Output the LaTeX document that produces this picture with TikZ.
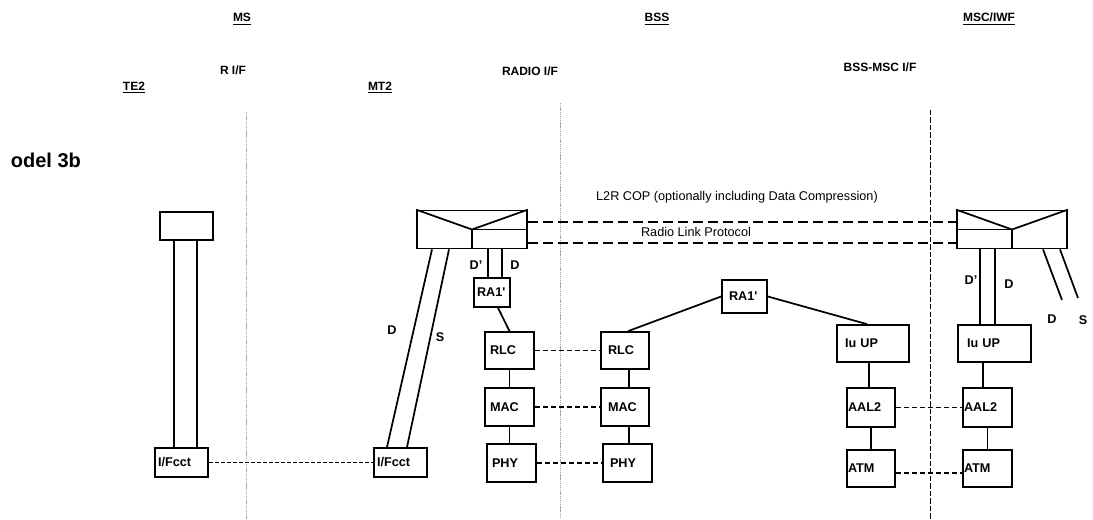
\documentclass[tikz,border=0pt]{standalone}
\usepackage{fontspec}
\setmainfont{Liberation Sans}
\usetikzlibrary{calc,positioning}
\tikzset{
  every picture/.style={line width=1.3pt},
  sbox/.style n args={3}{draw, rectangle, inner ysep=0pt, inner xsep=#3*0.75pt,
                  minimum width=#1*0.75pt, minimum height=#2*0.75pt,
                  text width={(#1-2*#3)*0.75pt}, align=left,
                  font=\bfseries\fontsize{9.5}{11}\selectfont},
  smux/.style={draw, rectangle, inner sep=0pt, minimum width=82.5pt, minimum height=28.5pt},
  slink/.style={solid},
  speer/.style={dash pattern=on 3.75pt off 2.25pt},
  speerfine/.style={line width=1pt, dash pattern=on 3pt off 1.5pt},
  speerlong/.style={dash pattern=on 7.5pt off 3.75pt},
  sbound/.style={draw=gray!70, line width=0.45pt, dash pattern=on 1pt off 0.6pt},
  sboundmsc/.style={line width=0.6pt, dash pattern=on 4pt off 1.6pt},
  shead/.style={inner sep=1pt, font=\bfseries\fontsize{9}{11}\selectfont},
  slabel/.style={inner sep=1pt, font=\bfseries\fontsize{9.5}{11}\selectfont},
  stext/.style={inner sep=1pt, font=\fontsize{9.5}{11}\selectfont},
  smodel/.style={inner sep=0pt, anchor=west, font=\bfseries\fontsize{15}{17}\selectfont},
}

\begin{document}
\begin{tikzpicture}[x=0.75pt,y=-0.75pt]
\useasboundingbox (0,0) rectangle (1093,519);
% interface boundaries
\draw[sbound] (246,112) -- (246,519); \draw[sbound] (560,103) -- (560,519);
\draw[sboundmsc] (930,110) -- (930,519);
% headings
\node[shead] (hMS) at (242,19) {\underline{MS}}; \node[shead] (hBSS) at (657,19) {\underline{BSS}};
\node[shead] (hMSC) at (989,19) {\underline{MSC/IWF}};
\node[shead] (hRIF) at (233,70) {R I/F}; \node[shead] (hRADIO) at (530,71) {RADIO I/F};
\node[shead] (hBSSMSC) at (880,67) {BSS-MSC I/F};
\node[shead] (hTE2) at (134,88) {\underline{TE2}}; \node[shead] (hMT2) at (380,88) {\underline{MT2}};
\node[smodel] (hModel) at (10,160) {odel 3b};
% TE2
\node[sbox={53}{28}{4}] (te2box) at (186.5,226) {};
\node[sbox={53}{29}{3}] (ifcctL) at (181.5,462.5) {I/Fcct};
\draw[slink] ($(te2box.south)+(-12.5,0)$) -- ($(ifcctL.north)+(-7.5,0)$);
\draw[slink] ($(te2box.south)+(10.5,0)$) -- ($(ifcctL.north)+(15.5,0)$);
% MT2
\node[smux] (muxMT) at (472,229.5) {};
\draw (muxMT.north west) -- (muxMT.center) -- (muxMT.north east); \draw (muxMT.east) -- (muxMT.center) -- (muxMT.south);
\node[sbox={53}{29}{3}] (ifcctR) at (400.5,462.5) {I/Fcct};
\draw[speerfine] (ifcctL.east) -- (ifcctR.west);
\draw[slink] ($(muxMT.south)+(-40,0)$) -- ($(ifcctR.north)+(-13.5,0)$);
\draw[slink] ($(muxMT.south)+(-23,0)$) -- ($(ifcctR.north)+(6.5,0)$);
\node[slabel] (lDmt) at (392,330) {D}; \node[slabel] (lSmt) at (440,337) {S};
\node[sbox={36}{29}{3}] (ra1L) at (492,292.5) {RA1\textquotesingle};
\draw[slink] ($(muxMT.south)+(16,0)$) -- ($(ra1L.north)+(-4,0)$);
\draw[slink] ($(muxMT.south)+(30,0)$) -- ($(ra1L.north)+(10,0)$);
\node[slabel] (lDpmt) at (476,265) {D’}; \node[slabel] (lDdmt) at (515,265) {D};
\node[sbox={49}{37}{5}] (rlcL) at (509.5,350.5) {RLC};
\node[sbox={49}{38}{5}] (macL) at (509.5,407) {MAC};
\node[sbox={49}{38}{5}] (phyL) at (511.5,463) {PHY};
\draw[slink] ($(ra1L.south)+(6,0)$) -- (rlcL.north);
\draw[slink] (rlcL) -- (macL); \draw[slink] (macL.south) -- (macL.south |- phyL.north);
% BSS
\node[sbox={48}{37}{7}] (rlcR) at (625,350.5) {RLC};
\node[sbox={48}{38}{7}] (macR) at (625,407) {MAC};
\node[sbox={49}{38}{7}] (phyR) at (627.5,463) {PHY};
\draw[slink] ($(rlcR.south)+(4,0)$) -- ($(macR.north)+(4,0)$); \draw[slink] ($(macR.south)+(4,0)$) -- ($(phyR.north)+(1.5,0)$);
\draw[speer] (rlcL) -- (rlcR); \draw[speer] (macL) -- (macR); \draw[speer] (phyL) -- (phyR);
\node[sbox={45}{33}{7}] (ra1M) at (744.5,296.5) {RA1\textquotesingle};
\node[sbox={72}{37}{8}] (iuL) at (873,343.5) {Iu UP};
\node[sbox={48}{39}{1}] (aalL) at (871,407.5) {AAL2};
\node[sbox={48}{37}{1}] (atmL) at (871,468.5) {ATM};
\draw[slink] (ra1M.west) -- ($(rlcR.north)+(3,0)$); \draw[slink] (ra1M.east) -- ($(iuL.north)+(-6,0)$);
\draw[slink] ($(iuL.south)+(-4,0)$) -- ($(aalL.north)+(-2,0)$); \draw[slink] (aalL) -- (atmL);
% MSC/IWF
\node[smux] (muxMSC) at (1012,229.5) {};
\draw (muxMSC.north west) -- (muxMSC.center) -- (muxMSC.north east); \draw (muxMSC.west) -- (muxMSC.center) -- (muxMSC.south);
\node[sbox={73}{37}{9}] (iuR) at (994.5,343.5) {Iu UP};
\node[sbox={49}{39}{1}] (aalR) at (987.5,407.5) {AAL2};
\node[sbox={49}{37}{1}] (atmR) at (987.5,468.5) {ATM};
\draw[slink] ($(iuR.south)+(-11.5,0)$) -- ($(aalR.north)+(-4.5,0)$); \draw[slink] (aalR) -- (atmR);
\draw[speer] (aalL) -- (aalR); \draw[speer] ($(atmL.east)+(0,4.5)$) -- ($(atmR.west)+(0,4.5)$);
\draw[slink] ($(muxMSC.south)+(-32,0)$) -- ($(iuR.north)+(-14.5,0)$);
\draw[slink] ($(muxMSC.south)+(-17,0)$) -- ($(iuR.north)+(0.5,0)$);
\node[slabel] (lDpmsc) at (971,280) {D’}; \node[slabel] (lDdmsc) at (1009,284) {D};
\coordinate (endD) at (1062,300); \coordinate (endS) at (1078,298);
\draw[slink] ($(muxMSC.south)+(31,0)$) -- (endD); \draw[slink] ($(muxMSC.south)+(48,0)$) -- (endS);
\node[slabel] (lDout) at (1052,319) {D}; \node[slabel] (lSout) at (1083,320) {S};
% peer protocols
\draw[speerlong] ($(muxMT.east)+(0,-7.5)$) -- ($(muxMSC.west)+(0,-7.5)$);
\draw[speerlong] ($(muxMT.east)+(0,13.5)$) -- ($(muxMSC.west)+(0,13.5)$);
\node[stext] (tL2R) at (737,197) {L2R COP (optionally including Data Compression)};
\node[stext] (tRLP) at (696,232) {Radio Link Protocol};
\end{tikzpicture}
\end{document}
